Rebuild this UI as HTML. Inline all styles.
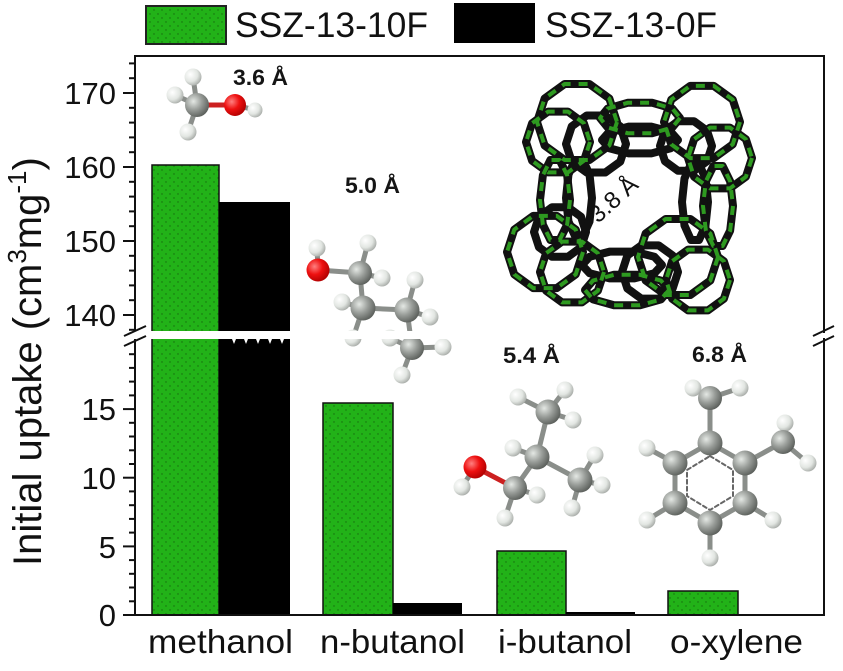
<!DOCTYPE html>
<html>
<head>
<meta charset="utf-8">
<style>
  html,body{margin:0;padding:0;background:#fff;}
  svg{display:block;}
  text{font-family:"Liberation Sans",Arial,sans-serif;}
</style>
</head>
<body>
<svg width="843" height="671" viewBox="0 0 843 671" xmlns="http://www.w3.org/2000/svg">
  <defs>
    <pattern id="dots" width="8" height="8" patternUnits="userSpaceOnUse">
      <rect width="8" height="8" fill="#22b218"/>
      <circle cx="2" cy="2" r="0.7" fill="#156a0e"/>
      <circle cx="6" cy="6" r="0.7" fill="#156a0e"/>
    </pattern>
    <radialGradient id="gC" cx="35%" cy="35%" r="70%">
      <stop offset="0" stop-color="#e4e8e4"/>
      <stop offset="0.5" stop-color="#9a9e9a"/>
      <stop offset="1" stop-color="#5a5e5a"/>
    </radialGradient>
    <radialGradient id="gH" cx="35%" cy="35%" r="70%">
      <stop offset="0" stop-color="#ffffff"/>
      <stop offset="0.6" stop-color="#e2e6e2"/>
      <stop offset="1" stop-color="#a8aca8"/>
    </radialGradient>
    <radialGradient id="gO" cx="35%" cy="35%" r="70%">
      <stop offset="0" stop-color="#ff8080"/>
      <stop offset="0.5" stop-color="#ee1010"/>
      <stop offset="1" stop-color="#b00000"/>
    </radialGradient>
    <polygon id="dec" points="1,0 0.809,0.588 0.309,0.951 -0.309,0.951 -0.809,0.588 -1,0 -0.809,-0.588 -0.309,-0.951 0.309,-0.951 0.809,-0.588" vector-effect="non-scaling-stroke"/>
  </defs>

  <!-- Legend -->
  <rect x="146" y="6" width="80" height="38" fill="url(#dots)" stroke="#222" stroke-width="2"/>
  <text x="235" y="37" font-size="35" fill="#111" textLength="193" lengthAdjust="spacingAndGlyphs">SSZ-13-10F</text>
  <rect x="454" y="3" width="81" height="40" fill="#000"/>
  <text x="545" y="37" font-size="35" fill="#111" textLength="172" lengthAdjust="spacingAndGlyphs">SSZ-13-0F</text>

  <!-- Zeolite structure -->
  <g fill="none" stroke-linejoin="round">
    <g stroke="#111" stroke-width="8">
      <use href="#dec" transform="translate(577,122) scale(40)"/>
      <use href="#dec" transform="translate(558,142) scale(32)"/>
      <use href="#dec" transform="translate(596,144) scale(30)"/>
      <use href="#dec" transform="translate(702,122) scale(38)"/>
      <use href="#dec" transform="translate(720,158) scale(32)"/>
      <use href="#dec" transform="translate(686,146) scale(26)"/>
      <use href="#dec" transform="translate(545,252) scale(38)"/>
      <use href="#dec" transform="translate(572,272) scale(32)"/>
      <use href="#dec" transform="translate(560,232) scale(26)"/>
      <use href="#dec" transform="translate(678,257) scale(40)"/>
      <use href="#dec" transform="translate(698,280) scale(32)"/>
      <use href="#dec" transform="translate(650,272) scale(28)"/>
      <use href="#dec" transform="translate(640,118) scale(40,16)"/>
      <use href="#dec" transform="translate(640,140) scale(38,14)"/>
      <use href="#dec" transform="translate(555,200) scale(15,42)"/>
      <use href="#dec" transform="translate(579,198) scale(13,40)"/>
      <use href="#dec" transform="translate(695,202) scale(13,40)"/>
      <use href="#dec" transform="translate(718,206) scale(15,42)"/>
      <use href="#dec" transform="translate(622,265) scale(40,14)"/>
      <use href="#dec" transform="translate(627,290) scale(42,16)"/>
    </g>
    <g stroke="#2e9a20" stroke-width="4" stroke-dasharray="9 8">
      <use href="#dec" transform="translate(577,122) scale(40)"/>
      <use href="#dec" transform="translate(558,142) scale(32)"/>
      <use href="#dec" transform="translate(702,122) scale(38)"/>
      <use href="#dec" transform="translate(720,158) scale(32)"/>
      <use href="#dec" transform="translate(545,252) scale(38)"/>
      <use href="#dec" transform="translate(572,272) scale(32)"/>
      <use href="#dec" transform="translate(678,257) scale(40)"/>
      <use href="#dec" transform="translate(698,280) scale(32)"/>
      <use href="#dec" transform="translate(640,118) scale(40,16)"/>
      <use href="#dec" transform="translate(555,200) scale(15,42)"/>
      <use href="#dec" transform="translate(718,206) scale(15,42)"/>
      <use href="#dec" transform="translate(627,290) scale(42,16)"/>
    </g>
  </g>
  <text x="0" y="0" font-size="24" fill="#111" transform="translate(598,224) rotate(-42)">3.8 Å</text>

  <!-- Bars -->
  <rect x="152" y="165" width="67" height="450" fill="url(#dots)" stroke="#111" stroke-width="1.5"/>
  <rect x="219" y="202" width="71" height="413" fill="#000"/>
  <rect x="323" y="403" width="70" height="212" fill="url(#dots)" stroke="#111" stroke-width="1.5"/>
  <rect x="393" y="603" width="69" height="12" fill="#000"/>
  <rect x="497" y="551" width="69" height="64" fill="url(#dots)" stroke="#111" stroke-width="1.5"/>
  <rect x="566" y="612" width="69" height="3" fill="#000"/>
  <rect x="668" y="591" width="70" height="24" fill="url(#dots)" stroke="#111" stroke-width="1.5"/>

  <!-- Molecules -->
  <g stroke-linecap="round">
    <!-- methanol -->
    <g stroke="#8a8e8a" stroke-width="5">
      <line x1="197" y1="105" x2="193" y2="77"/><line x1="197" y1="105" x2="175" y2="95"/>
      <line x1="197" y1="105" x2="188" y2="132"/><line x1="255" y1="110" x2="235" y2="105"/>
    </g>
    <line x1="197" y1="105" x2="235" y2="105" stroke="#cc2020" stroke-width="5"/>
    <circle cx="193" cy="77" r="8.5" fill="url(#gH)"/><circle cx="175" cy="95" r="8.5" fill="url(#gH)"/>
    <circle cx="188" cy="132" r="8.5" fill="url(#gH)"/><circle cx="255" cy="110" r="7.5" fill="url(#gH)"/>
    <circle cx="197" cy="105" r="12" fill="url(#gC)"/><circle cx="235" cy="105" r="11" fill="url(#gO)"/>

    <!-- n-butanol -->
    <g stroke="#8a8e8a" stroke-width="5">
      <line x1="318" y1="270" x2="317" y2="248"/><line x1="318" y1="270" x2="360" y2="273"/>
      <line x1="360" y1="273" x2="368" y2="243"/><line x1="360" y1="273" x2="382" y2="278"/>
      <line x1="360" y1="273" x2="363" y2="308"/><line x1="363" y1="308" x2="342" y2="302"/>
      <line x1="363" y1="308" x2="353" y2="338"/><line x1="363" y1="308" x2="407" y2="310"/>
      <line x1="407" y1="310" x2="415" y2="280"/><line x1="407" y1="310" x2="430" y2="317"/>
      <line x1="407" y1="310" x2="412" y2="348"/><line x1="412" y1="348" x2="390" y2="338"/>
      <line x1="412" y1="348" x2="443" y2="347"/><line x1="412" y1="348" x2="402" y2="375"/>
    </g>
    <circle cx="317" cy="248" r="8.5" fill="url(#gH)"/><circle cx="368" cy="243" r="8.5" fill="url(#gH)"/>
    <circle cx="382" cy="278" r="8.5" fill="url(#gH)"/><circle cx="342" cy="302" r="8.5" fill="url(#gH)"/>
    <circle cx="353" cy="338" r="8.5" fill="url(#gH)"/><circle cx="415" cy="280" r="8.5" fill="url(#gH)"/>
    <circle cx="430" cy="317" r="8.5" fill="url(#gH)"/><circle cx="390" cy="338" r="8.5" fill="url(#gH)"/>
    <circle cx="443" cy="347" r="8.5" fill="url(#gH)"/><circle cx="402" cy="375" r="8.5" fill="url(#gH)"/>
    <circle cx="318" cy="270" r="11.5" fill="url(#gO)"/><circle cx="360" cy="273" r="12" fill="url(#gC)"/>
    <circle cx="363" cy="308" r="12.5" fill="url(#gC)"/><circle cx="407" cy="310" r="12.5" fill="url(#gC)"/>
    <circle cx="412" cy="348" r="12" fill="url(#gC)"/>

    <!-- i-butanol -->
    <g stroke="#8a8e8a" stroke-width="5">
      <line x1="475" y1="467" x2="462" y2="487"/><line x1="515" y1="488" x2="537" y2="495"/>
      <line x1="515" y1="488" x2="505" y2="518"/><line x1="515" y1="488" x2="537" y2="457"/>
      <line x1="537" y1="457" x2="513" y2="448"/><line x1="537" y1="457" x2="548" y2="412"/>
      <line x1="537" y1="457" x2="580" y2="480"/><line x1="548" y1="412" x2="518" y2="397"/>
      <line x1="548" y1="412" x2="565" y2="390"/><line x1="548" y1="412" x2="573" y2="420"/>
      <line x1="580" y1="480" x2="595" y2="455"/><line x1="580" y1="480" x2="602" y2="485"/>
      <line x1="580" y1="480" x2="572" y2="508"/>
    </g>
    <line x1="475" y1="467" x2="515" y2="488" stroke="#cc2020" stroke-width="5"/>
    <circle cx="462" cy="487" r="8.5" fill="url(#gH)"/><circle cx="537" cy="495" r="8.5" fill="url(#gH)"/>
    <circle cx="505" cy="518" r="8.5" fill="url(#gH)"/><circle cx="513" cy="448" r="8.5" fill="url(#gH)"/>
    <circle cx="518" cy="397" r="8.5" fill="url(#gH)"/><circle cx="565" cy="390" r="8.5" fill="url(#gH)"/>
    <circle cx="573" cy="420" r="8.5" fill="url(#gH)"/><circle cx="595" cy="455" r="8.5" fill="url(#gH)"/>
    <circle cx="602" cy="485" r="8.5" fill="url(#gH)"/><circle cx="572" cy="508" r="8.5" fill="url(#gH)"/>
    <circle cx="475" cy="467" r="11.5" fill="url(#gO)"/><circle cx="515" cy="488" r="12" fill="url(#gC)"/>
    <circle cx="537" cy="457" r="12.5" fill="url(#gC)"/><circle cx="548" cy="412" r="12.5" fill="url(#gC)"/>
    <circle cx="580" cy="480" r="12.5" fill="url(#gC)"/>

    <!-- o-xylene -->
    <g stroke="#8a8e8a" stroke-width="5">
      <polygon points="710,443 745,463 745,503 710,523 675,503 675,463" fill="none"/>
      <line x1="710" y1="443" x2="710" y2="398"/><line x1="710" y1="398" x2="693" y2="388"/>
      <line x1="710" y1="398" x2="740" y2="388"/><line x1="745" y1="463" x2="783" y2="442"/>
      <line x1="783" y1="442" x2="785" y2="423"/><line x1="783" y1="442" x2="808" y2="463"/>
      <line x1="675" y1="463" x2="647" y2="448"/><line x1="675" y1="503" x2="647" y2="520"/>
      <line x1="710" y1="523" x2="710" y2="558"/><line x1="745" y1="503" x2="773" y2="520"/>
    </g>
    <polygon points="710,456 733,470 733,496 710,510 687,496 687,470" fill="none" stroke="#666" stroke-width="2" stroke-dasharray="4 3"/>
    <circle cx="693" cy="388" r="8.5" fill="url(#gH)"/><circle cx="740" cy="388" r="8.5" fill="url(#gH)"/>
    <circle cx="785" cy="423" r="8.5" fill="url(#gH)"/><circle cx="808" cy="463" r="8.5" fill="url(#gH)"/>
    <circle cx="647" cy="448" r="8.5" fill="url(#gH)"/><circle cx="647" cy="520" r="8.5" fill="url(#gH)"/>
    <circle cx="710" cy="558" r="8.5" fill="url(#gH)"/><circle cx="773" cy="520" r="8.5" fill="url(#gH)"/>
    <circle cx="710" cy="398" r="12" fill="url(#gC)"/><circle cx="783" cy="442" r="12" fill="url(#gC)"/>
    <circle cx="710" cy="443" r="12.5" fill="url(#gC)"/><circle cx="745" cy="463" r="12.5" fill="url(#gC)"/>
    <circle cx="745" cy="503" r="12.5" fill="url(#gC)"/><circle cx="710" cy="523" r="12.5" fill="url(#gC)"/>
    <circle cx="675" cy="503" r="12.5" fill="url(#gC)"/><circle cx="675" cy="463" r="12.5" fill="url(#gC)"/>
  </g>

  <!-- Axis break band -->
  <rect x="137" y="331" width="320" height="8" fill="#fff"/>
  <g fill="#fff">
    <polygon points="232,339 236,339 234,344"/><polygon points="244,339 248,339 246,344"/>
    <polygon points="256,339 260,339 258,344"/><polygon points="268,339 272,339 270,344"/>
    <polygon points="280,339 284,339 282,344"/>
  </g>

  <!-- Annotations -->
  <g font-size="22" font-weight="bold" fill="#151515">
    <text x="233" y="85" textLength="55" lengthAdjust="spacingAndGlyphs">3.6 Å</text>
    <text x="345" y="193" textLength="55" lengthAdjust="spacingAndGlyphs">5.0 Å</text>
    <text x="503" y="363" textLength="57" lengthAdjust="spacingAndGlyphs">5.4 Å</text>
    <text x="692" y="362" textLength="55" lengthAdjust="spacingAndGlyphs">6.8 Å</text>
  </g>

  <!-- Frame -->
  <g stroke="#111" stroke-width="2" fill="none">
    <line x1="135" y1="56" x2="824" y2="56"/>
    <line x1="135" y1="55" x2="135" y2="331"/>
    <line x1="135" y1="339" x2="135" y2="616"/>
    <line x1="824" y1="55" x2="824" y2="333"/>
    <line x1="824" y1="338" x2="824" y2="616"/>
    <line x1="123" y1="615" x2="825" y2="615"/>
    <line x1="124" y1="336" x2="146" y2="326"/>
    <line x1="124" y1="346" x2="146" y2="336"/>
    <line x1="813" y1="336" x2="834" y2="326"/>
    <line x1="813" y1="346" x2="834" y2="336"/>
  </g>

  <!-- Ticks -->
  <g stroke="#111" stroke-width="2">
    <line x1="123" y1="93" x2="135" y2="93"/><line x1="123" y1="167" x2="135" y2="167"/>
    <line x1="123" y1="241" x2="135" y2="241"/><line x1="123" y1="315" x2="135" y2="315"/>
    <line x1="129" y1="63.4" x2="135" y2="63.4"/><line x1="129" y1="78.2" x2="135" y2="78.2"/>
    <line x1="129" y1="107.8" x2="135" y2="107.8"/><line x1="129" y1="122.6" x2="135" y2="122.6"/>
    <line x1="129" y1="137.4" x2="135" y2="137.4"/><line x1="129" y1="152.2" x2="135" y2="152.2"/>
    <line x1="129" y1="181.8" x2="135" y2="181.8"/><line x1="129" y1="196.6" x2="135" y2="196.6"/>
    <line x1="129" y1="211.4" x2="135" y2="211.4"/><line x1="129" y1="226.2" x2="135" y2="226.2"/>
    <line x1="129" y1="255.8" x2="135" y2="255.8"/><line x1="129" y1="270.6" x2="135" y2="270.6"/>
    <line x1="129" y1="285.4" x2="135" y2="285.4"/><line x1="129" y1="300.2" x2="135" y2="300.2"/>
    <line x1="129" y1="329.8" x2="135" y2="329.8"/>
    <line x1="123" y1="615" x2="135" y2="615"/><line x1="123" y1="546.4" x2="135" y2="546.4"/>
    <line x1="123" y1="477.7" x2="135" y2="477.7"/><line x1="123" y1="409.1" x2="135" y2="409.1"/>
    <line x1="129" y1="601.3" x2="135" y2="601.3"/><line x1="129" y1="587.5" x2="135" y2="587.5"/>
    <line x1="129" y1="573.8" x2="135" y2="573.8"/><line x1="129" y1="560.1" x2="135" y2="560.1"/>
    <line x1="129" y1="532.6" x2="135" y2="532.6"/><line x1="129" y1="518.9" x2="135" y2="518.9"/>
    <line x1="129" y1="505.2" x2="135" y2="505.2"/><line x1="129" y1="491.4" x2="135" y2="491.4"/>
    <line x1="129" y1="464" x2="135" y2="464"/><line x1="129" y1="450.3" x2="135" y2="450.3"/>
    <line x1="129" y1="436.5" x2="135" y2="436.5"/><line x1="129" y1="422.8" x2="135" y2="422.8"/>
    <line x1="129" y1="395.4" x2="135" y2="395.4"/><line x1="129" y1="381.6" x2="135" y2="381.6"/>
    <line x1="129" y1="367.9" x2="135" y2="367.9"/><line x1="129" y1="354.2" x2="135" y2="354.2"/>
  </g>

  <!-- Tick labels -->
  <g font-size="31" fill="#111" text-anchor="end">
    <text x="116" y="104">170</text>
    <text x="116" y="178">160</text>
    <text x="116" y="252">150</text>
    <text x="116" y="326">140</text>
    <text x="116" y="420">15</text>
    <text x="116" y="489">10</text>
    <text x="116" y="558">5</text>
    <text x="116" y="626">0</text>
  </g>

  <!-- Category labels -->
  <g font-size="33" fill="#111">
    <text x="148" y="653" textLength="145" lengthAdjust="spacingAndGlyphs">methanol</text>
    <text x="320" y="653" textLength="145" lengthAdjust="spacingAndGlyphs">n-butanol</text>
    <text x="498" y="653" textLength="134" lengthAdjust="spacingAndGlyphs">i-butanol</text>
    <text x="670" y="653" textLength="133" lengthAdjust="spacingAndGlyphs">o-xylene</text>
  </g>

  <!-- Y axis label -->
  <text transform="translate(41,566) rotate(-90)" font-size="40" fill="#111">Initial uptake (cm<tspan font-size="26" dy="-15">3</tspan><tspan dy="15">mg</tspan><tspan font-size="26" dy="-15">-1</tspan><tspan dy="15">)</tspan></text>
</svg>
</body>
</html>
